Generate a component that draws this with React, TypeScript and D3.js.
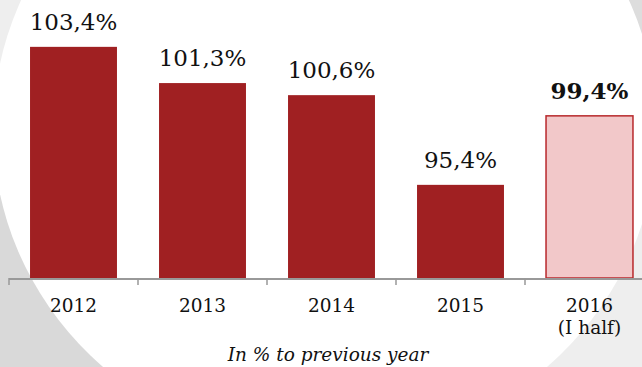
import React from "react";
import * as d3 from "d3";

const categories = ["2012", "2013", "2014", "2015", "2016"];
const subLabels = ["", "", "", "", "(I half)"];
const values = [103.4, 101.3, 100.6, 95.4, 99.4];
const valueLabels = ["103,4%", "101,3%", "100,6%", "95,4%", "99,4%"];
const highlighted = [false, false, false, false, true];
const caption = "In % to previous year";

const W = 642;
const H = 367;
const FONT = "'DejaVu Serif', Georgia, serif";

export default function App() {
  const x = d3.scaleBand<string>().domain(categories).range([9, 9 + 129 * 5]).paddingInner(0.326).paddingOuter(0.163);
  const y = d3.scaleLinear().domain([90, 106]).range([278, 2]);
  const base = y(90);
  const tickXs = d3.range(categories.length + 1).map((i) => 9 + 129 * i);

  return (
    <svg width={W} height={H} style={{ position: "absolute", left: 0, top: 0 }}>
      <rect x={0} y={0} width={324} height={129} fill="#eeeeee" />
      <rect x={324} y={0} width={318} height={129} fill="#dddddd" />
      <rect x={0} y={129} width={324} height={238} fill="#d9d9d9" />
      <rect x={324} y={129} width={318} height={238} fill="#eeeeee" />
      <ellipse cx={325} cy={129} rx={332} ry={320} fill="#ffffff" />

      {categories.map((c, i) => {
        const bx = x(c)!;
        const bw = x.bandwidth();
        const top = y(values[i]);
        return (
          <g key={c}>
            <rect
              x={bx}
              y={top}
              width={bw}
              height={base - top}
              fill={highlighted[i] ? "#f2c8c9" : "#a02022"}
              stroke={highlighted[i] ? "#b8292c" : "none"}
              strokeWidth={highlighted[i] ? 1.5 : 0}
            />
            <text
              x={bx + bw / 2}
              y={top - 17}
              textAnchor="middle"
              fontFamily={FONT}
              fontSize={23}
              fontWeight={highlighted[i] ? "bold" : "normal"}
              fill="#111"
            >
              {valueLabels[i]}
            </text>
            <text x={bx + bw / 2} y={312} textAnchor="middle" fontFamily={FONT} fontSize={18.5} fill="#111">
              {c}
            </text>
            {subLabels[i] && (
              <text x={bx + bw / 2} y={334} textAnchor="middle" fontFamily={FONT} fontSize={18.5} fill="#111">
                {subLabels[i]}
              </text>
            )}
          </g>
        );
      })}

      <line x1={9} x2={W} y1={base + 1} y2={base + 1} stroke="#999" strokeWidth={2} />
      {tickXs.map((tx, i) => (
        <line key={i} x1={tx} x2={tx} y1={base} y2={base + 7} stroke="#999" strokeWidth={1.5} />
      ))}

      <text x={328} y={361} textAnchor="middle" fontFamily={FONT} fontStyle="italic" fontSize={18.5} fill="#111">
        {caption}
      </text>
    </svg>
  );
}
